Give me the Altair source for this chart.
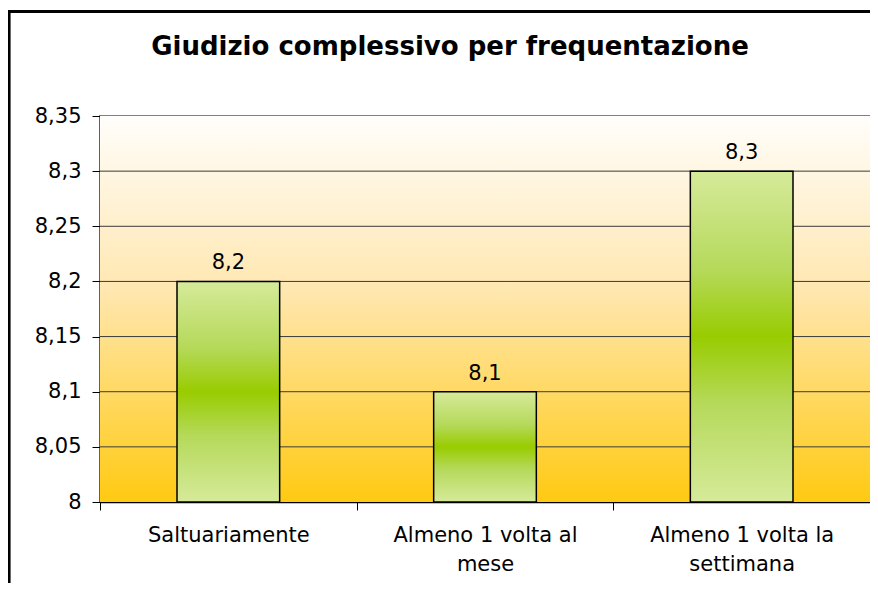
import altair as alt
import pandas as pd

categories = ["Saltuariamente", "Almeno 1 volta al\nmese", "Almeno 1 volta la\nsettimana"]
values = [8.2, 8.1, 8.3]
y_ticks = [8, 8.05, 8.1, 8.15, 8.2, 8.25, 8.3, 8.35]
title_text = "Giudizio complessivo per frequentazione"

df = pd.DataFrame({"cat": categories, "val": values})
grid_df = pd.DataFrame({"g": y_ticks[1:-1]})
title_df = pd.DataFrame({"t": [title_text]})

FONT = "DejaVu Sans"
W, H = 770, 386

bar_grad = alt.Gradient(
    gradient="linear",
    stops=[
        alt.GradientStop(color="#d6ea9a", offset=0),
        alt.GradientStop(color="#b5d95a", offset=0.3),
        alt.GradientStop(color="#99cc00", offset=0.5),
        alt.GradientStop(color="#b5d95a", offset=0.7),
        alt.GradientStop(color="#d6ea9a", offset=1),
    ],
    x1=0, x2=0, y1=0, y2=1,
)

bg_grad = alt.Gradient(
    gradient="linear",
    stops=[
        alt.GradientStop(color="#fffefb", offset=0),
        alt.GradientStop(color="#ffe7b0", offset=0.45),
        alt.GradientStop(color="#ffca12", offset=1),
    ],
    x1=0, x2=0, y1=0, y2=1,
)

y_scale = alt.Scale(domain=[8, 8.35], zero=False, nice=False)

x_enc = alt.X(
    "cat:N",
    sort=categories,
    scale=alt.Scale(paddingInner=0, paddingOuter=0),
    axis=alt.Axis(
        title=None,
        labelAngle=0,
        labelExpr="split(datum.label, '\\n')",
        labelFont=FONT,
        labelFontSize=21,
        labelColor="#000000",
        labelPadding=14,
        labelLineHeight=29,
        labelBaseline="top",
        labelLimit=0,
        tickBand="extent",
        tickSize=8,
        tickColor="#000000",
        domainColor="#000000",
        domainWidth=1.5,
        grid=False,
    ),
)

y_axis = alt.Axis(
    title=None,
    values=y_ticks,
    labelExpr="replace(toString(datum.value), '.', ',')",
    labelFont=FONT,
    labelFontSize=21,
    labelColor="#000000",
    labelPadding=11,
    tickSize=8,
    tickColor="#000000",
    domainColor="#000000",
    domainWidth=1.5,
    grid=False,
)

background = alt.Chart(df).mark_rect(fill=bg_grad).encode(
    x=alt.value(0), x2=alt.value(W),
    y=alt.value(0), y2=alt.value(H),
)

gridlines = alt.Chart(grid_df).mark_rule(color="#3a3a3a", strokeWidth=1).encode(
    y=alt.Y("g:Q", scale=y_scale, axis=y_axis),
)

bars = alt.Chart(df).mark_bar(
    width=alt.RelativeBandSize(0.4),
    color=bar_grad,
    stroke="#000000",
    strokeWidth=1.5,
).encode(
    x=x_enc,
    y=alt.Y("val:Q", scale=y_scale, axis=y_axis),
    y2=alt.datum(8),
)

labels = alt.Chart(df).transform_calculate(
    lab="replace(format(datum.val, '.1f'), '.', ',')"
).mark_text(
    font=FONT, fontSize=21, color="#000000", baseline="alphabetic", dy=-12
).encode(
    x=alt.X("cat:N", sort=categories),
    y=alt.Y("val:Q", scale=y_scale),
    text="lab:N",
)

title = alt.Chart(title_df).mark_text(
    font=FONT, fontSize=26, fontWeight="bold", color="#000000",
    baseline="alphabetic", align="center",
).encode(
    x=alt.value(W / 2 - 35),
    y=alt.value(-61),
    text="t:N",
)

frame = alt.Chart(df).mark_rect(
    fill=None, stroke="#000000", strokeWidth=2.5
).encode(
    x=alt.value(-91), x2=alt.value(W + 40),
    y=alt.value(-104.5), y2=alt.value(H + 120),
)

chart = alt.layer(background, gridlines, bars, labels, title, frame).properties(
    width=W,
    height=H,
    autosize=alt.AutoSizeParams(type="none"),
    padding={"left": 92, "top": 108, "right": 0, "bottom": 81},
    background="#ffffff",
).configure_view(
    stroke="#808080",
    strokeWidth=2,
)

chart.save("out.html", embed_options={"renderer": "svg", "actions": False})
